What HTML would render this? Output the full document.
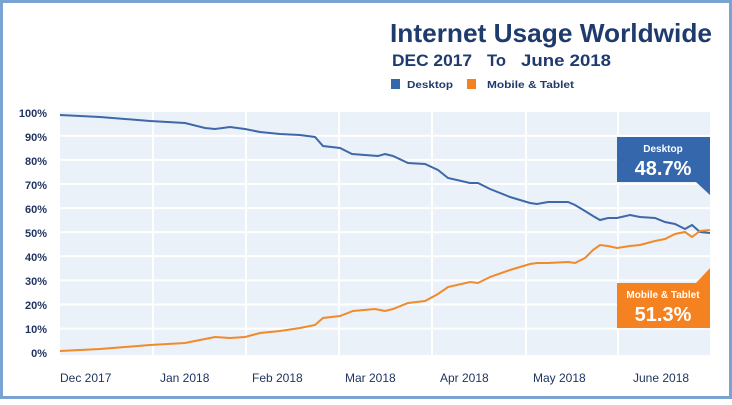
<!DOCTYPE html>
<html><head><meta charset="utf-8"><style>
html,body{margin:0;padding:0;background:#fff;}
body{width:732px;height:400px;overflow:hidden;}
</style></head><body>
<svg width="732" height="400" xmlns="http://www.w3.org/2000/svg" font-family="Liberation Sans, sans-serif" font-weight="bold">
<rect x="1.5" y="1.5" width="729" height="396" fill="#fff" stroke="#7aa3d4" stroke-width="3"/>
<rect x="60" y="112" width="650" height="243" fill="#ebf1f9"/>
<g stroke="#fff" stroke-width="2">
<line x1="60" x2="710" y1="135.8" y2="135.8"/><line x1="60" x2="710" y1="159.9" y2="159.9"/>
<line x1="60" x2="710" y1="184" y2="184"/><line x1="60" x2="710" y1="208.1" y2="208.1"/>
<line x1="60" x2="710" y1="232.2" y2="232.2"/><line x1="60" x2="710" y1="256.3" y2="256.3"/>
<line x1="60" x2="710" y1="280.4" y2="280.4"/><line x1="60" x2="710" y1="304.5" y2="304.5"/>
<line x1="60" x2="710" y1="328.6" y2="328.6"/>
<line x1="153" x2="153" y1="112" y2="355"/><line x1="246" x2="246" y1="112" y2="355"/>
<line x1="339" x2="339" y1="112" y2="355"/><line x1="432" x2="432" y1="112" y2="355"/>
<line x1="526" x2="526" y1="112" y2="355"/><line x1="618" x2="618" y1="112" y2="355"/>
</g>
<g font-size="11" fill="#1f3560" text-anchor="end">
<text x="47" y="117">100%</text><text x="47" y="141">90%</text><text x="47" y="165">80%</text>
<text x="47" y="189">70%</text><text x="47" y="213">60%</text><text x="47" y="237">50%</text>
<text x="47" y="261">40%</text><text x="47" y="285">30%</text><text x="47" y="309">20%</text>
<text x="47" y="333">10%</text><text x="47" y="357">0%</text>
</g>
<g font-size="12" fill="#1f3560" font-weight="normal">
<text x="60" y="382">Dec 2017</text><text x="160" y="382">Jan 2018</text><text x="252" y="382">Feb  2018</text>
<text x="345" y="382">Mar 2018</text><text x="440" y="382">Apr 2018</text><text x="533" y="382">May 2018</text>
<text x="633" y="382">June 2018</text>
</g>
<polyline fill="none" stroke="#3f68a8" stroke-width="2" points="60,115 100,117 150,121 185,123 205,128 215,129 230,127 245,129 260,132 280,134 300,135 315,137 323,146 340,148 352,154 378,156 385,154 393,156 408,163 425,164 438,170 448,178 470,183 478,183 490,189 510,197 530,203 537,204 548,202 568,202 575,205 585,211 593,216 600,220 608,218 617,218 630,215 640,217 655,218 665,222 675,224 685,229 692,225 700,232 710,233"/>
<polyline fill="none" stroke="#f08a2a" stroke-width="2" points="60,351 100,349 150,345 185,343 205,339 215,337 230,338 245,337 260,333 280,331 300,328 315,325 323,318 340,316 353,311 375,309 385,311 393,309 408,303 425,301 438,294 448,287 470,282 478,283 490,277 510,270 530,264 537,263 548,263 568,262 575,263 585,258 593,250 600,245 608,246 617,248 630,246 640,245 655,241 665,239 675,234 685,232 692,237 700,231 710,230"/>
<polygon points="617,137 710,137 710,195 696,182 617,182" fill="#3567ad"/>
<text x="663" y="152" font-size="10" fill="#fff" text-anchor="middle">Desktop</text>
<text x="663" y="175" font-size="20" fill="#fff" text-anchor="middle">48.7%</text>
<polygon points="617,283 696,283 710,268 710,328 617,328" fill="#f58220"/>
<text x="663" y="298" font-size="10" fill="#fff" text-anchor="middle">Mobile &amp; Tablet</text>
<text x="663" y="321" font-size="20" fill="#fff" text-anchor="middle">51.3%</text>
<text x="390" y="42" font-size="26" fill="#1f3b6e" textLength="322" lengthAdjust="spacingAndGlyphs">Internet Usage Worldwide</text>
<text x="392" y="66" font-size="17" fill="#1f3b6e" textLength="80" lengthAdjust="spacingAndGlyphs">DEC 2017</text>
<text x="487" y="66" font-size="17" fill="#1f3b6e" textLength="19" lengthAdjust="spacingAndGlyphs">To</text>
<text x="521" y="66" font-size="17" fill="#1f3b6e" textLength="90" lengthAdjust="spacingAndGlyphs">June 2018</text>
<rect x="391" y="79" width="9" height="10" fill="#3567ad"/>
<text x="407" y="88" font-size="10" fill="#1f3b6e" textLength="46" lengthAdjust="spacingAndGlyphs">Desktop</text>
<rect x="467" y="79" width="9" height="10" fill="#f58220"/>
<text x="487" y="88" font-size="10" fill="#1f3b6e" textLength="87" lengthAdjust="spacingAndGlyphs">Mobile &amp; Tablet</text>
</svg>
</body></html>
